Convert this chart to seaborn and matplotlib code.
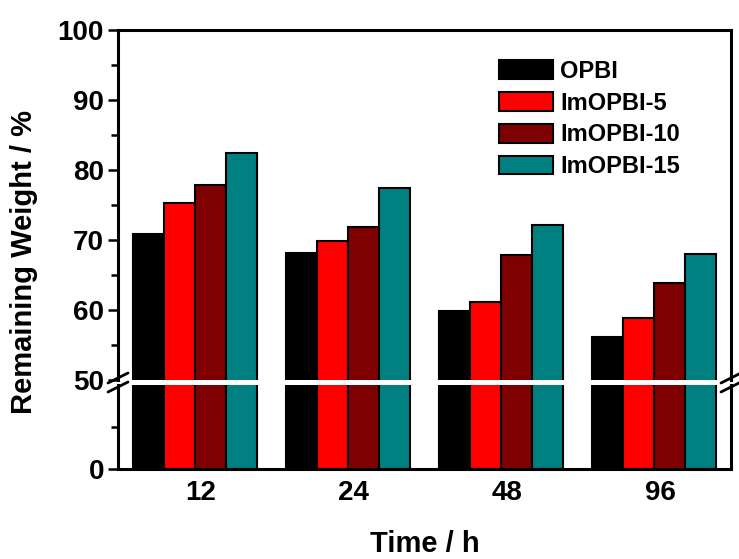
import numpy as np
import pandas as pd
import seaborn as sns
import matplotlib.pyplot as plt
import matplotlib.transforms as mtrans
from matplotlib.ticker import MultipleLocator, FixedLocator
from matplotlib.patches import Patch
from matplotlib.lines import Line2D

# data
times = ['12', '24', '48', '96']
samples = ['OPBI', 'ImOPBI-5', 'ImOPBI-10', 'ImOPBI-15']
opbi = [70.8, 68.1, 59.8, 56.2]
imopbi_5 = [75.3, 69.8, 61.1, 58.9]
imopbi_10 = [77.8, 71.9, 67.8, 63.9]
imopbi_15 = [82.4, 77.5, 72.1, 68.0]
colors = ['#000000', '#ff0000', '#7f0000', '#008080']

df = pd.DataFrame({
    'time': times * 4,
    'sample': np.repeat(samples, len(times)),
    'weight': opbi + imopbi_5 + imopbi_10 + imopbi_15,
})

sns.set_style('ticks')
plt.rcParams['font.family'] = ['Liberation Sans', 'DejaVu Sans']
plt.rcParams['font.weight'] = 'bold'
for k in ['text.color', 'axes.labelcolor', 'xtick.color', 'ytick.color', 'axes.edgecolor']:
    plt.rcParams[k] = 'black'

W, H = 739, 559
fig = plt.figure(figsize=(W / 100, H / 100), dpi=100)


def box(x0, y0, x1, y1):
    # pixel box (from top-left) -> figure fraction rect
    return [x0 / W, 1 - y1 / H, (x1 - x0) / W, (y1 - y0) / H]


ax_top = fig.add_axes(box(118, 30, 731, 380))
ax_bot = fig.add_axes(box(118, 385, 731, 469))

for ax in (ax_top, ax_bot):
    sns.barplot(data=df, x='time', y='weight', hue='sample', order=times,
                hue_order=samples, palette=colors, saturation=1, width=0.81,
                edgecolor='black', linewidth=1.5, ax=ax, legend=False)
    ax.set_xlabel('')
    ax.set_ylabel('')
    ax.set_xlim(-0.5, 3.5)
    for s in ax.spines.values():
        s.set_linewidth(2.2)
        s.set_color('black')
    ax.tick_params(axis='y', which='major', direction='out', length=7,
                   width=1.8, labelsize=20, pad=3, color='black', labelcolor='black')
    ax.tick_params(axis='y', which='minor', direction='out', length=5, width=1.8,
                   color='black')
    ax.tick_params(axis='x', length=0, labelcolor='black')

# upper part 50-100
ax_top.set_ylim(50, 100)
ax_top.yaxis.set_major_locator(MultipleLocator(10))
ax_top.yaxis.set_minor_locator(MultipleLocator(5))
ax_top.spines['bottom'].set_visible(False)
ax_top.tick_params(axis='x', labelbottom=False)

# lower part 0-50
ax_bot.set_ylim(0, 50)
ax_bot.yaxis.set_major_locator(FixedLocator([0]))
ax_bot.yaxis.set_minor_locator(FixedLocator([25]))
ax_bot.spines['top'].set_visible(False)
ax_bot.tick_params(axis='x', labelsize=20, pad=8)
shift = mtrans.ScaledTranslation(0.06, 0, fig.dpi_scale_trans)
for lab in ax_bot.get_xticklabels():
    lab.set_transform(lab.get_transform() + shift)

for ax in (ax_top, ax_bot):
    for lab in ax.get_yticklabels() + ax.get_xticklabels():
        lab.set_fontweight('bold')

# break marks on both spines
for xs in (118, 731):
    for yc in (378, 387):
        fig.add_artist(Line2D([(xs - 10) / W, (xs + 10) / W],
                              [1 - (yc + 5) / H, 1 - (yc - 5) / H],
                              color='black', lw=2, transform=fig.transFigure))

handles = [Patch(facecolor=c, edgecolor='black', linewidth=1.5) for c in colors]
fig.legend(handles, samples, loc='upper left', bbox_to_anchor=(499 / W, 1 - 60 / H),
           frameon=False, borderpad=0, borderaxespad=0,
           handlelength=2.29, handleheight=0.85, handletextpad=0.3,
           labelspacing=0.37, prop={'weight': 'bold', 'size': 17})

fig.text(24 / W, 1 - 262 / H, 'Remaining Weight / %', rotation=90,
         ha='center', va='center', fontsize=21, fontweight='bold')
fig.text(425 / W, 1 - 544 / H, 'Time / h', ha='center', va='center',
         fontsize=21, fontweight='bold')

fig.savefig('out.png', dpi=100)
